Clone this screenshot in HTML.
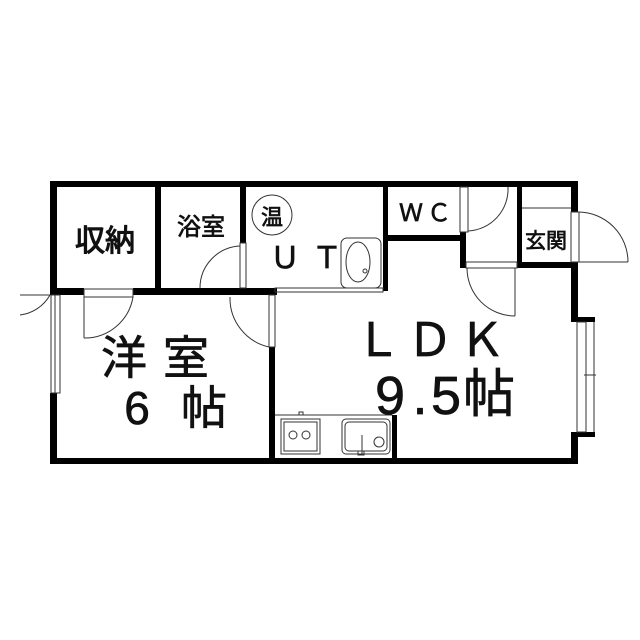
<!DOCTYPE html>
<html><head><meta charset="utf-8"><style>
html,body{margin:0;padding:0;background:#fff;}
svg{display:block;}
text{font-family:"Liberation Sans","Noto Sans CJK JP",sans-serif;fill:#111;stroke:#111;stroke-width:0.7;}
</style></head><body>
<svg width="640" height="640" viewBox="0 0 640 640" xmlns="http://www.w3.org/2000/svg">
<rect width="640" height="640" fill="#fff"/>
<g fill="#000">
<rect x="50" y="181" width="528" height="6"/>
<rect x="50" y="458" width="528" height="6"/>
<rect x="50" y="181" width="7" height="114"/>
<rect x="50" y="393" width="7" height="71"/>
<rect x="571" y="181" width="7" height="31"/>
<rect x="571" y="262" width="7" height="55"/>
<rect x="571" y="317" width="24" height="5"/>
<rect x="571" y="432" width="24" height="5"/>
<rect x="571" y="432" width="7" height="32"/>
<rect x="155" y="181" width="6" height="114"/>
<rect x="50" y="288" width="34" height="7"/>
<rect x="133" y="288" width="144" height="7"/>
<rect x="240" y="181" width="6" height="62"/>
<rect x="269" y="347" width="6" height="117"/>
<rect x="383" y="181" width="5" height="110"/>
<rect x="383" y="235" width="83" height="6"/>
<rect x="460" y="232" width="6" height="36"/>
<rect x="517" y="187" width="5" height="81"/>
<rect x="517" y="262" width="61" height="6"/>
<rect x="392" y="415" width="5" height="45"/>
</g>
<g fill="none" stroke="#333" stroke-width="1">
<rect x="51" y="295" width="9" height="98"/>
<line x1="55" y1="295" x2="55" y2="393"/>
<path d="M50 295 A 40 40 0 0 1 20 315"/>
<line x1="20" y1="295" x2="50" y2="295"/>
<rect x="84" y="289" width="49" height="8"/>
<line x1="84" y1="297" x2="84" y2="338"/>
<path d="M133 297 A 49 49 0 0 1 84 338"/>
<rect x="240" y="243" width="6" height="45"/>
<path d="M240 246 A 42 42 0 0 0 200 288"/>
<rect x="269" y="295" width="6" height="52"/>
<path d="M230 297 A 50 50 0 0 0 269 347"/>
<rect x="275" y="288" width="108" height="4"/>
<rect x="341" y="238" width="40" height="50" rx="6"/>
<ellipse cx="358" cy="262" rx="12" ry="20"/>
<circle cx="365" cy="271" r="2"/>
<rect x="460" y="187" width="8" height="45"/>
<path d="M508 187 A 42 42 0 0 1 468 231"/>
<rect x="466" y="262" width="51" height="6"/>
<path d="M467 268 A 48 48 0 0 0 515 316"/>
<line x1="515" y1="268" x2="515" y2="316"/>
<line x1="522" y1="208" x2="571" y2="208"/>
<rect x="571" y="212" width="8" height="50"/>
<path d="M578 212 A 50 50 0 0 1 628 262"/>
<line x1="578" y1="262" x2="628" y2="262"/>
<rect x="577" y="322" width="9" height="110"/>
<line x1="594" y1="322" x2="594" y2="432"/>
<line x1="584" y1="375" x2="596" y2="375"/>
<line x1="275" y1="415" x2="392" y2="415"/>
<rect x="281" y="419" width="39" height="35"/>
<rect x="284" y="422" width="33" height="29"/>
<circle cx="293" cy="435" r="4"/>
<circle cx="306" cy="435" r="4"/>
<rect x="299" y="412" width="4" height="3"/>
<rect x="342" y="419" width="48" height="35" rx="4"/>
<rect x="345" y="422" width="42" height="29" rx="4"/>
<line x1="362" y1="435" x2="362" y2="454"/>
<circle cx="379" cy="442" r="5"/>
<rect x="358" y="451" width="6" height="4"/>
<circle cx="272" cy="215" r="20"/>
</g>
<text x="105" y="251" font-size="30" text-anchor="middle" style="stroke-width:1.1">収納</text>
<text x="201" y="235" font-size="24" text-anchor="middle">浴室</text>
<text x="272" y="225" font-size="22" text-anchor="middle">温</text>
<text x="312" y="268" font-size="30" text-anchor="middle" letter-spacing="12">ＵＴ</text>
<text x="427" y="221" font-size="24" text-anchor="middle" letter-spacing="4">ＷＣ</text>
<text x="546" y="248" font-size="21" text-anchor="middle">玄関</text>
<text x="163" y="374" font-size="46" text-anchor="middle" letter-spacing="16">洋室</text>
<text x="137" y="424" font-size="46" text-anchor="middle">6</text>
<text x="204" y="424" font-size="46" text-anchor="middle">帖</text>
<text x="433" y="356" font-size="46" text-anchor="middle" letter-spacing="6">ＬＤＫ</text>
<text x="390" y="414" font-size="54" text-anchor="middle">9</text>
<text x="420" y="414" font-size="54" text-anchor="middle">.</text>
<text x="446" y="414" font-size="54" text-anchor="middle">5</text>
<text x="489" y="412" font-size="52" text-anchor="middle">帖</text>
</svg>
</body></html>
